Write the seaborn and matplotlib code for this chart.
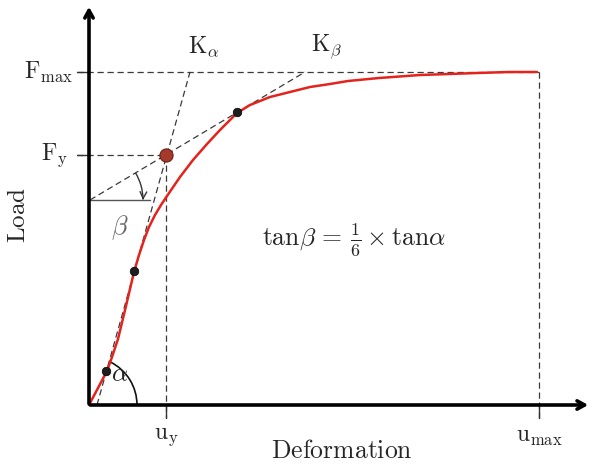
import numpy as np
import matplotlib
matplotlib.use("Agg")
import matplotlib.pyplot as plt
from matplotlib.patches import Arc
import seaborn as sns

# load-deformation curve (origin at the axes corner)
curve_x = [0, 9, 18, 23, 29, 37, 45, 50, 55, 60, 66, 72, 78, 91, 104, 118,
           131, 148, 161, 181, 201, 221, 241, 259, 290, 331, 360, 388, 420, 448]
curve_y = [0, 17, 34, 48, 66, 99, 133, 150, 165, 178, 190, 200, 209, 228,
           245, 261, 275, 292, 300, 308, 313, 318, 321, 324, 327, 330, 331,
           332, 333, 333]

# marked points on the curve and the yield point
pts_x = [17, 45, 148]
pts_y = [34, 134, 293]
yield_x, yield_y = 77, 250

# characteristic values
F_max, F_y = 333, 250
u_y, u_max = 77, 450

# secant lines K_alpha and K_beta
k_alpha_x = [8, 101]
k_alpha_y = [0, 333]
k_beta_x = [1, 216]
k_beta_y = [205, 333]

sns.set_theme(style="white")
plt.rcParams["mathtext.fontset"] = "cm"
plt.rcParams["font.family"] = ["DejaVu Serif"]

fig = plt.figure(figsize=(5.92, 4.67), dpi=100)
ax = fig.add_axes([0, 0, 1, 1])
ax.set_xlim(-89, 503)
ax.set_ylim(-62, 405)
ax.axis("off")

dash = dict(color="#3a3a3a", lw=0.9, ls=(0, (5, 3)))

# guide lines
ax.plot([-12, u_max], [F_max, F_max], **dash)
ax.plot([-12, yield_x], [F_y, F_y], **dash)
ax.plot([u_y, u_y], [yield_y, -13], **dash)
ax.plot([u_max, u_max], [F_max, -13], **dash)
ax.plot(k_alpha_x, k_alpha_y, **dash)
ax.plot(k_beta_x, k_beta_y, **dash)

# small solid ticks
ax.plot([-12, 0], [F_max, F_max], color="#333", lw=1)
ax.plot([-12, 0], [F_y, F_y], color="#333", lw=1)
ax.plot([u_y, u_y], [0, -13], color="#333", lw=1)
ax.plot([u_max, u_max], [0, -13], color="#333", lw=1)

# beta reference line and angle arcs
ax.plot([0, 61], [205, 205], color="#555", lw=1)
ax.add_patch(Arc((1, 205), 106, 106, theta1=1, theta2=31, color="#333", lw=1))
ax.annotate("", xy=(54, 205), xytext=(54.2, 209),
            arrowprops=dict(arrowstyle="->", color="#333", lw=1))
ax.add_patch(Arc((0, 0), 96, 96, theta1=0, theta2=64, color="#111", lw=1.2))

# curve
sns.lineplot(x=curve_x, y=curve_y, sort=False, color="#e3231c", lw=1.8,
             ax=ax, zorder=3)
sns.scatterplot(x=pts_x, y=pts_y, color="#1e1e1e", edgecolor="#000",
                s=38, ax=ax, zorder=5)
sns.scatterplot(x=[yield_x], y=[yield_y], color="#a5392a", edgecolor="#6a1d14",
                s=90, ax=ax, zorder=5)

# axes with arrows
head = "->,head_length=0.45,head_width=0.25"
ax.annotate("", xy=(502, 0), xytext=(-1.5, 0),
            arrowprops=dict(arrowstyle=head, color="black", lw=2.6))
ax.annotate("", xy=(0, 401), xytext=(0, -1.5),
            arrowprops=dict(arrowstyle=head, color="black", lw=2.6))

fs = 17
ax.text(-16, F_max, r"$\mathrm{F}_{\mathrm{max}}$", fontsize=fs, ha="right", va="center")
ax.text(-21, F_y, r"$\mathrm{F}_{\mathrm{y}}$", fontsize=fs, ha="right", va="center")
ax.text(u_y, -20, r"$\mathrm{u}_{\mathrm{y}}$", fontsize=fs, ha="center", va="top")
ax.text(u_max, -20, r"$\mathrm{u}_{\mathrm{max}}$", fontsize=fs, ha="center", va="top")
ax.text(115, 358, r"$\mathrm{K}_{\alpha}$", fontsize=fs, ha="center", va="center")
ax.text(238, 358, r"$\mathrm{K}_{\beta}$", fontsize=fs, ha="center", va="center")
ax.text(31, 30, r"$\alpha$", fontsize=18, ha="center", va="center", color="#222")
ax.text(31, 177, r"$\beta$", fontsize=19, ha="center", va="center", color="#666")
ax.text(265, 165, r"$\mathrm{tan}\beta\,=\,\frac{1}{6}\times\mathrm{tan}\alpha$",
        fontsize=18.5, ha="center", va="center")
ax.text(253, -45, r"$\mathrm{Deformation}$", fontsize=18.5, ha="center", va="center")
ax.text(-71, 190, r"$\mathrm{Load}$", fontsize=18, ha="center", va="center",
        rotation=90)

fig.savefig("out.png", dpi=100)
